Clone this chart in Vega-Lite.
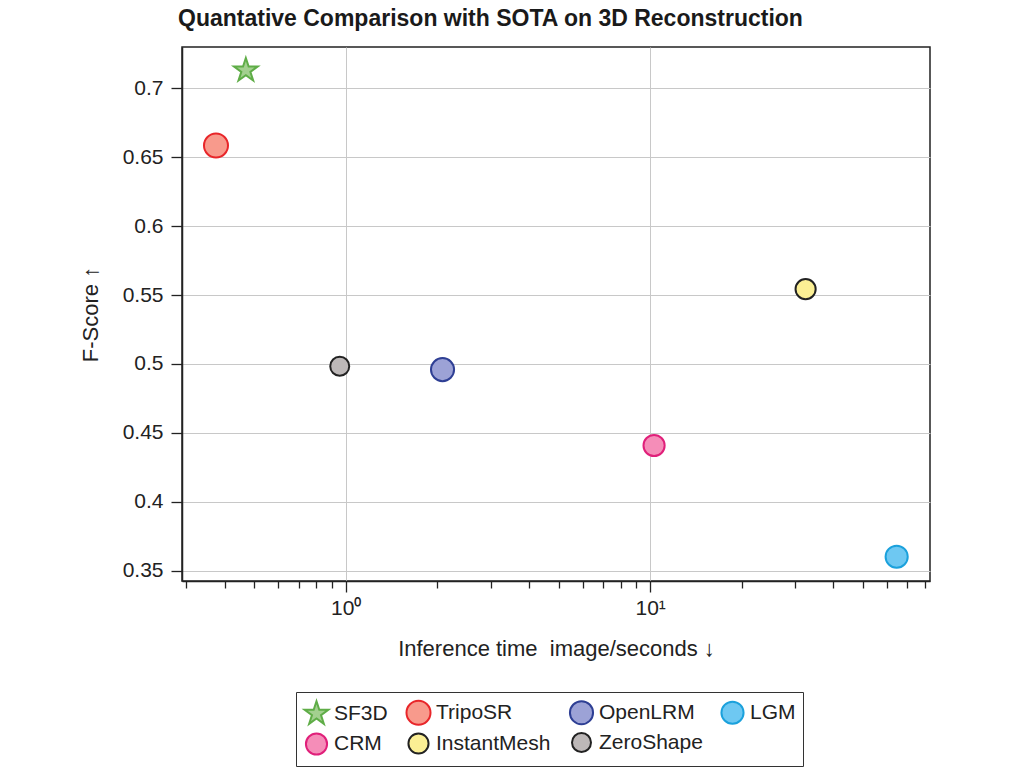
{
  "$schema": "https://vega.github.io/schema/vega-lite/v6.json",
  "autosize": {"type": "none"},
  "width": 748,
  "height": 534,
  "padding": {"left": 182, "top": 47, "right": 86, "bottom": 191},
  "background": "white",
  "title": {
    "text": "Quantative Comparison with SOTA on 3D Reconstruction",
    "anchor": "start",
    "frame": "group",
    "dx": -4,
    "offset": 16,
    "font": "Liberation Sans",
    "fontSize": 23,
    "fontWeight": "bold",
    "color": "#1a1a1a"
  },
  "config": {
    "font": "Liberation Sans",
    "view": {"stroke": "#222", "strokeWidth": 1.5},
    "axis": {
      "labelFont": "Liberation Sans",
      "titleFont": "Liberation Sans",
      "labelFontSize": 21,
      "titleFontSize": 22,
      "labelColor": "#222",
      "titleColor": "#222",
      "titleFontWeight": "normal",
      "domainColor": "#222",
      "tickColor": "#222",
      "domainWidth": 1.5,
      "tickWidth": 1.3,
      "gridColor": "#c8c8c8",
      "gridWidth": 1
    }
  },
  "data": {
    "values": [
      {"method": "SF3D", "time": 0.47, "fscore": 0.713},
      {"method": "TripoSR", "time": 0.375, "fscore": 0.6585},
      {"method": "OpenLRM", "time": 2.08, "fscore": 0.4959},
      {"method": "LGM", "time": 64.5, "fscore": 0.3601},
      {"method": "CRM", "time": 10.3, "fscore": 0.4408},
      {"method": "InstantMesh", "time": 32.4, "fscore": 0.5543},
      {"method": "ZeroShape", "time": 0.956, "fscore": 0.4983}
    ]
  },
  "mark": {"type": "point", "filled": true, "opacity": 1, "strokeWidth": 2},
  "encoding": {
    "x": {
      "field": "time",
      "type": "quantitative",
      "scale": {"type": "log", "domain": [0.29, 83], "nice": false},
      "axis": {
        "values": [0.3, 0.4, 0.5, 0.6, 0.7, 0.8, 0.9, 1, 2, 3, 4, 5, 6, 7, 8, 9, 10, 20, 30, 40, 50, 60, 70, 80],
        "labelExpr": "datum.value == 1 ? '10⁰' : datum.value == 10 ? '10¹' : ''",
        "grid": true,
        "gridOpacity": {"condition": {"test": "datum.value == 1 || datum.value == 10", "value": 1}, "value": 0},
        "tickSize": {"condition": {"test": "datum.value == 1 || datum.value == 10", "value": 11}, "value": 7},
        "labelPadding": 5,
        "labelOverlap": false,
        "title": "Inference time \u00a0image/seconds ↓",
        "titlePadding": 20
      }
    },
    "y": {
      "field": "fscore",
      "type": "quantitative",
      "scale": {"domain": [0.3425, 0.73], "nice": false, "zero": false},
      "axis": {
        "values": [0.35, 0.4, 0.45, 0.5, 0.55, 0.6, 0.65, 0.7],
        "labelExpr": "format(datum.value, '.2~f')",
        "tickSize": 11,
        "labelPadding": 8,
        "grid": true,
        "title": "F-Score ↑",
        "titlePadding": 20
      }
    },
    "shape": {
      "field": "method",
      "type": "nominal",
      "scale": {
        "domain": ["SF3D", "TripoSR", "OpenLRM", "LGM", "CRM", "InstantMesh", "ZeroShape"],
        "range": ["M0,-1L0.2245,-0.309L0.951,-0.309L0.363,0.118L0.588,0.809L0,0.382L-0.588,0.809L-0.363,0.118L-0.951,-0.309L-0.2245,-0.309Z", "circle", "circle", "circle", "circle", "circle", "circle"]
      },
      "legend": {
        "orient": "none",
        "legendX": 114,
        "legendY": 645,
        "direction": "horizontal",
        "columns": 4,
        "title": null,
        "labelFont": "Liberation Sans",
        "labelFontSize": 21,
        "labelColor": "#222",
        "symbolStrokeWidth": 2,
        "columnPadding": 14,
        "rowPadding": 0,
        "labelOffset": 4,
        "padding": 7,
        "strokeColor": "#333",
        "fillColor": "white",
        "symbolOpacity": 1
      }
    },
    "fill": {
      "field": "method",
      "type": "nominal",
      "scale": {
        "domain": ["SF3D", "TripoSR", "OpenLRM", "LGM", "CRM", "InstantMesh", "ZeroShape"],
        "range": ["#a3d08f", "#f89a8c", "#9ca2d6", "#6ec8f2", "#f58db8", "#fbef94", "#bdb8b8"]
      }
    },
    "stroke": {
      "field": "method",
      "type": "nominal",
      "scale": {
        "domain": ["SF3D", "TripoSR", "OpenLRM", "LGM", "CRM", "InstantMesh", "ZeroShape"],
        "range": ["#5fad47", "#e8262a", "#2e3f94", "#1ba1dc", "#e0207a", "#222222", "#222222"]
      }
    },
    "size": {
      "field": "method",
      "type": "nominal",
      "scale": {
        "domain": ["SF3D", "TripoSR", "OpenLRM", "LGM", "CRM", "InstantMesh", "ZeroShape"],
        "range": [620, 361, 361, 361, 361, 361, 361]
      }
    }
  }
}
